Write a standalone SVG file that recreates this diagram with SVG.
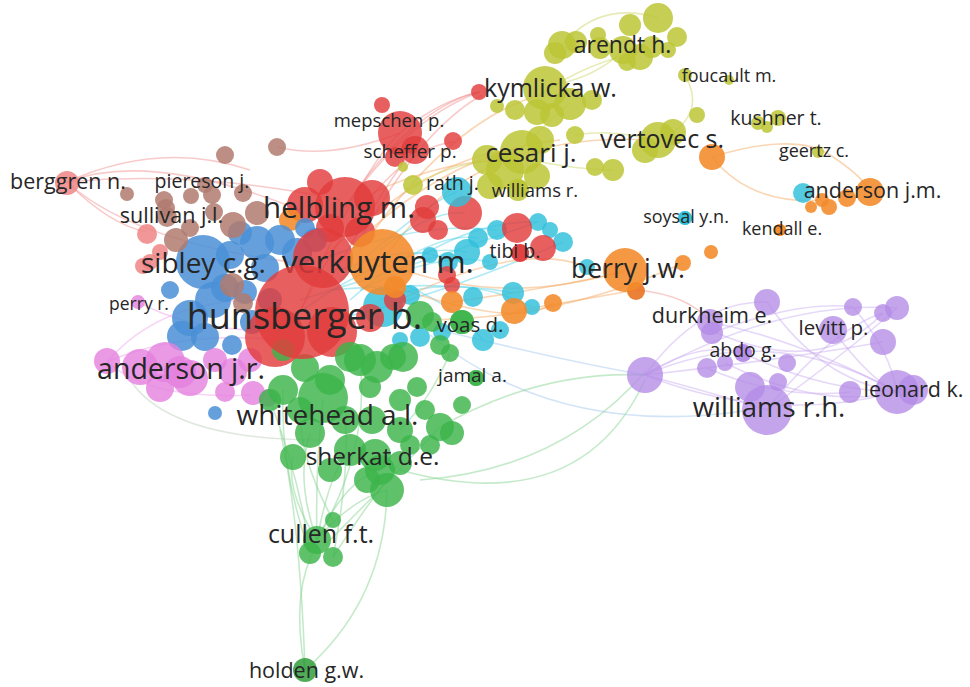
<svg xmlns="http://www.w3.org/2000/svg" width="970" height="687" viewBox="0 0 970 687">
<style>
.r{fill:#e23c3c;fill-opacity:.82}
.o{fill:#f28a2a;fill-opacity:.88}
.c{fill:#2fbfdc;fill-opacity:.82}
.y{fill:#bcc636;fill-opacity:.85}
.b{fill:#4a8fd6;fill-opacity:.85}
.br{fill:#b07a6e;fill-opacity:.85}
.s{fill:#ef8585;fill-opacity:.85}
.p{fill:#e57fdd;fill-opacity:.8}
.g{fill:#3cb44b;fill-opacity:.82}
.pu{fill:#b48be6;fill-opacity:.78}
.t{font-family:"Open Sans","Liberation Sans",sans-serif;fill:#262626;text-anchor:middle}
#connectors path{fill:none;stroke-width:1.6;stroke-opacity:.45}
.er{stroke:#f08c8c}.eo{stroke:#f5a55a}.ec{stroke:#4fd0e8}.ey{stroke:#c9d35a}.eg{stroke:#7fd08a}.ep{stroke:#c8a8f0}.eb{stroke:#9ec3ee}.epk{stroke:#eea0e8}.egr{stroke:#b8cdb8}
</style>
<rect width="970" height="687" fill="#ffffff"/>
<g id="connectors">
<path class="er" d="M67,182 Q150,150 300,210"/>
<path class="er" d="M67,182 Q130,240 290,262"/>
<path class="er" d="M67,182 Q200,170 340,200"/>
<path class="er" d="M67,182 Q110,225 147,232"/>
<path class="er" d="M67,182 Q160,140 250,170"/>
<path class="er" d="M277,147 Q330,160 400,133"/>
<path class="er" d="M345,207 Q410,110 478,92"/>
<path class="er" d="M400,133 Q440,100 480,92"/>
<path class="er" d="M330,230 Q400,120 480,92"/>
<path class="er" d="M360,240 Q420,130 482,95"/>
<path class="eo" d="M345,207 Q430,160 510,160"/>
<path class="eo" d="M382,262 Q470,130 650,140"/>
<path class="eo" d="M320,260 Q440,150 520,150"/>
<path class="eo" d="M360,250 Q450,120 540,95"/>
<path class="eo" d="M370,230 Q460,150 560,140"/>
<path class="er" d="M300,312 Q380,150 453,142"/>
<path class="er" d="M300,312 Q360,170 400,133"/>
<path class="er" d="M330,280 Q400,160 415,150"/>
<path class="ec" d="M300,312 Q400,240 467,252"/>
<path class="ec" d="M320,260 Q420,220 497,230"/>
<path class="ec" d="M340,280 Q430,200 457,192"/>
<path class="ec" d="M300,300 Q430,260 538,222"/>
<path class="ec" d="M330,290 Q450,280 513,293"/>
<path class="ec" d="M330,320 Q430,300 563,242"/>
<path class="ec" d="M350,300 Q430,230 478,238"/>
<path class="ec" d="M360,290 Q440,250 490,262"/>
<path class="ec" d="M380,300 Q460,270 532,307"/>
<path class="ec" d="M380,250 Q430,210 465,213"/>
<path class="ec" d="M390,280 Q450,300 483,340"/>
<path class="ec" d="M400,270 Q470,220 538,222"/>
<path class="ec" d="M340,270 Q420,240 448,262"/>
<path class="eo" d="M382,262 Q500,310 625,270"/>
<path class="eo" d="M452,302 Q540,290 625,272"/>
<path class="eo" d="M514,311 Q580,300 636,290"/>
<path class="eo" d="M420,320 Q560,320 683,263"/>
<path class="eo" d="M400,300 Q520,240 587,267"/>
<path class="eo" d="M395,287 Q520,330 553,303"/>
<path class="er" d="M636,290 Q690,295 710,322"/>
<path class="eo" d="M712,157 C760,142 805,138 830,155 C850,168 865,180 870,192"/>
<path class="eo" d="M712,157 Q750,205 822,200"/>
<path class="ey" d="M562,45 Q600,0 658,18"/>
<path class="ey" d="M555,85 Q600,75 623,50"/>
<path class="ey" d="M540,95 Q590,60 650,50"/>
<path class="ey" d="M685,75 Q705,110 673,132"/>
<path class="ey" d="M575,135 Q620,128 658,143"/>
<path class="ey" d="M520,150 Q550,120 570,103"/>
<path class="ey" d="M530,160 Q580,170 613,170"/>
<path class="ey" d="M413,185 Q460,160 505,160"/>
<path class="ep" d="M645,375 Q770,320 897,392"/>
<path class="ep" d="M645,375 Q770,425 897,392"/>
<path class="ep" d="M645,375 Q780,360 883,342"/>
<path class="ep" d="M710,322 Q800,340 897,392"/>
<path class="ep" d="M710,330 Q820,380 883,313"/>
<path class="ep" d="M767,410 Q830,330 883,313"/>
<path class="ep" d="M767,410 Q850,350 897,308"/>
<path class="ep" d="M743,353 Q820,390 897,392"/>
<path class="ep" d="M725,363 Q820,410 897,392"/>
<path class="ep" d="M767,302 Q820,380 897,392"/>
<path class="ep" d="M833,330 Q870,380 897,392"/>
<path class="ep" d="M853,307 Q890,350 897,392"/>
<path class="ep" d="M645,375 Q700,340 743,353"/>
<path class="ep" d="M707,368 Q780,400 850,392"/>
<path class="ep" d="M645,375 Q720,395 767,410"/>
<path class="ep" d="M645,375 Q700,300 767,302"/>
<path class="ep" d="M645,375 Q780,300 897,308"/>
<path class="ep" d="M712,333 Q800,300 853,307"/>
<path class="eb" d="M430,335 Q560,440 750,410"/>
<path class="eb" d="M440,330 Q560,360 645,375"/>
<path class="eg" d="M400,470 Q580,520 645,380"/>
<path class="eg" d="M440,427 Q540,370 645,375"/>
<path class="eg" d="M420,480 Q560,470 645,372"/>
<path class="egr" d="M130,380 Q170,440 320,440"/>
<path class="epk" d="M107,362 Q160,300 260,300"/>
<path class="epk" d="M107,362 Q180,330 280,340"/>
<path class="epk" d="M138,302 Q190,330 260,330"/>
<path class="epk" d="M107,362 Q150,400 250,395"/>
<path class="eg" d="M317,540 Q295,480 310,433"/>
<path class="eg" d="M317,540 Q330,470 350,450"/>
<path class="eg" d="M317,540 Q345,480 380,470"/>
<path class="eg" d="M317,540 Q350,500 387,490"/>
<path class="eg" d="M317,540 Q285,490 293,457"/>
<path class="eg" d="M317,540 Q315,470 323,400"/>
<path class="eg" d="M310,553 Q280,470 283,390"/>
<path class="eg" d="M333,557 Q370,500 400,463"/>
<path class="eg" d="M333,520 Q300,460 300,410"/>
<path class="eg" d="M317,540 Q370,450 360,360"/>
<path class="eg" d="M310,553 Q300,480 270,400"/>
<path class="eg" d="M333,557 Q350,470 345,420"/>
<path class="eg" d="M325,545 Q390,480 440,427"/>
<path class="eg" d="M305,670 Q290,590 317,545"/>
<path class="eg" d="M305,670 Q385,600 387,490"/>
<path class="eg" d="M305,670 Q300,520 280,430"/>
<path class="eg" d="M450,353 Q430,400 400,430"/>
</g>
<g id="nodes">
<g id="n1"><circle class="r" cx="382" cy="105" r="8"/></g>
<g id="n2"><circle class="r" cx="415" cy="150" r="14"/></g>
<g id="n3"><circle class="r" cx="395" cy="157" r="10"/></g>
<g id="n4"><circle class="r" cx="453" cy="141" r="9"/></g>
<g id="n5"><circle class="r" cx="479" cy="92" r="8"/></g>
<g id="n6"><circle class="r" cx="320" cy="182" r="13"/></g>
<g id="n7"><circle class="r" cx="305" cy="205" r="18"/></g>
<g id="n8"><circle class="r" cx="372" cy="198" r="18"/></g>
<g id="n9"><circle class="r" cx="360" cy="232" r="15"/></g>
<g id="n10"><circle class="r" cx="330" cy="228" r="14"/></g>
<g id="n11"><circle class="r" cx="427" cy="207" r="12"/></g>
<g id="n12"><circle class="r" cx="465" cy="213" r="17"/></g>
<g id="n13"><circle class="r" cx="423" cy="220" r="13"/></g>
<g id="n14"><circle class="r" cx="438" cy="230" r="10"/></g>
<g id="n15"><circle class="o" cx="290" cy="220" r="11"/></g>
<g id="n16"><circle class="b" cx="203" cy="262" r="27"/></g>
<g id="n17"><circle class="b" cx="240" cy="233" r="12"/></g>
<g id="n18"><circle class="b" cx="257" cy="243" r="17"/></g>
<g id="n19"><circle class="b" cx="280" cy="240" r="15"/></g>
<g id="n20"><circle class="b" cx="297" cy="253" r="15"/></g>
<g id="n21"><circle class="b" cx="265" cy="268" r="14"/></g>
<g id="n22"><circle class="b" cx="225" cy="288" r="14"/></g>
<g id="n23"><circle class="b" cx="213" cy="300" r="18"/></g>
<g id="n24"><circle class="b" cx="190" cy="318" r="18"/></g>
<g id="n25"><circle class="b" cx="182" cy="336" r="15"/></g>
<g id="n26"><circle class="b" cx="205" cy="337" r="14"/></g>
<g id="n27"><circle class="b" cx="245" cy="292" r="12"/></g>
<g id="n28"><circle class="b" cx="305" cy="228" r="10"/></g>
<g id="n29"><circle class="b" cx="232" cy="345" r="10"/></g>
<g id="n30"><circle class="b" cx="252" cy="322" r="12"/></g>
<g id="n31"><circle class="b" cx="270" cy="300" r="12"/></g>
<g id="n32"><circle class="b" cx="170" cy="290" r="9"/></g>
<g id="n33"><circle class="b" cx="215" cy="413" r="7"/></g>
<g id="n186"><circle class="b" cx="230" cy="255" r="14"/></g>
<g id="n187"><circle class="b" cx="315" cy="240" r="12"/></g>
<g id="n34"><circle class="br" cx="225" cy="155" r="9"/></g>
<g id="n35"><circle class="br" cx="277" cy="147" r="9"/></g>
<g id="n36"><circle class="br" cx="127" cy="194" r="7"/></g>
<g id="n37"><circle class="br" cx="164" cy="200" r="9"/></g>
<g id="n38"><circle class="br" cx="191" cy="196" r="8"/></g>
<g id="n39"><circle class="br" cx="212" cy="195" r="9"/></g>
<g id="n40"><circle class="br" cx="243" cy="193" r="9"/></g>
<g id="n41"><circle class="br" cx="233" cy="225" r="13"/></g>
<g id="n42"><circle class="br" cx="257" cy="213" r="12"/></g>
<g id="n43"><circle class="br" cx="167" cy="217" r="10"/></g>
<g id="n44"><circle class="br" cx="176" cy="240" r="12"/></g>
<g id="n45"><circle class="br" cx="214" cy="212" r="9"/></g>
<g id="n46"><circle class="br" cx="232" cy="285" r="12"/></g>
<g id="n47"><circle class="br" cx="243" cy="303" r="10"/></g>
<g id="n48"><circle class="br" cx="190" cy="228" r="9"/></g>
<g id="n49"><circle class="s" cx="147" cy="234" r="10"/></g>
<g id="n50"><circle class="s" cx="143" cy="266" r="8"/></g>
<g id="n51"><circle class="s" cx="160" cy="252" r="8"/></g>
<g id="n52"><circle class="p" cx="107" cy="361" r="13"/></g>
<g id="n53"><circle class="p" cx="140" cy="367" r="18"/></g>
<g id="n54"><circle class="p" cx="165" cy="362" r="20"/></g>
<g id="n55"><circle class="p" cx="190" cy="378" r="18"/></g>
<g id="n56"><circle class="p" cx="233" cy="372" r="14"/></g>
<g id="n57"><circle class="p" cx="215" cy="360" r="12"/></g>
<g id="n58"><circle class="p" cx="250" cy="360" r="12"/></g>
<g id="n59"><circle class="p" cx="253" cy="393" r="12"/></g>
<g id="n60"><circle class="p" cx="160" cy="388" r="14"/></g>
<g id="n61"><circle class="p" cx="268" cy="398" r="9"/></g>
<g id="n62"><circle class="p" cx="225" cy="392" r="10"/></g>
<g id="n63"><circle class="c" cx="467" cy="252" r="13"/></g>
<g id="n64"><circle class="c" cx="478" cy="238" r="10"/></g>
<g id="n65"><circle class="c" cx="497" cy="230" r="10"/></g>
<g id="n66"><circle class="c" cx="538" cy="222" r="9"/></g>
<g id="n67"><circle class="c" cx="563" cy="242" r="10"/></g>
<g id="n68"><circle class="c" cx="490" cy="262" r="8"/></g>
<g id="n69"><circle class="c" cx="513" cy="293" r="11"/></g>
<g id="n70"><circle class="c" cx="532" cy="307" r="8"/></g>
<g id="n71"><circle class="c" cx="473" cy="297" r="10"/></g>
<g id="n72"><circle class="c" cx="483" cy="340" r="11"/></g>
<g id="n73"><circle class="c" cx="500" cy="330" r="9"/></g>
<g id="n74"><circle class="c" cx="383" cy="307" r="20"/></g>
<g id="n75"><circle class="c" cx="410" cy="295" r="10"/></g>
<g id="n76"><circle class="c" cx="420" cy="337" r="10"/></g>
<g id="n77"><circle class="c" cx="442" cy="332" r="9"/></g>
<g id="n78"><circle class="c" cx="400" cy="340" r="8"/></g>
<g id="n79"><circle class="c" cx="448" cy="262" r="10"/></g>
<g id="n188"><circle class="c" cx="430" cy="255" r="8"/></g>
<g id="n189"><circle class="c" cx="550" cy="230" r="8"/></g>
<g id="n80"><circle class="c" cx="587" cy="267" r="8"/></g>
<g id="n81"><circle class="c" cx="803" cy="193" r="10"/></g>
<g id="n82"><circle class="r" cx="517" cy="228" r="15"/></g>
<g id="n83"><circle class="r" cx="543" cy="248" r="13"/></g>
<g id="n84"><circle class="r" cx="520" cy="253" r="9"/></g>
<g id="n85"><circle class="r" cx="447" cy="275" r="9"/></g>
<g id="n86"><circle class="r" cx="452" cy="285" r="8"/></g>
<g id="n87"><circle class="r" cx="323" cy="258" r="30" fill-opacity=".7"/></g>
<g id="n88"><circle class="r" cx="275" cy="337" r="30"/></g>
<g id="n89"><circle class="r" cx="332" cy="332" r="25"/></g>
<g id="n90"><circle class="r" cx="370" cy="318" r="14"/></g>
<g id="n91"><circle class="r" cx="395" cy="300" r="11"/></g>
<g id="n92"><circle class="o" cx="395" cy="287" r="11"/></g>
<g id="n93"><circle class="o" cx="452" cy="302" r="11"/></g>
<g id="n94"><circle class="o" cx="514" cy="311" r="13"/></g>
<g id="n95"><circle class="o" cx="553" cy="303" r="9"/></g>
<g id="n96"><circle class="o" cx="636" cy="291" r="9" style="fill:#e8701a"/></g>
<g id="n97"><circle class="o" cx="683" cy="263" r="8"/></g>
<g id="n98"><circle class="o" cx="711" cy="252" r="7"/></g>
<g id="n99"><circle class="o" cx="712" cy="157" r="13"/></g>
<g id="n100"><circle class="o" cx="847" cy="198" r="9"/></g>
<g id="n101"><circle class="o" cx="829" cy="207" r="8"/></g>
<g id="n102"><circle class="o" cx="811" cy="207" r="6"/></g>
<g id="n103"><circle class="o" cx="822" cy="200" r="7"/></g>
<g id="n104"><circle class="o" cx="780" cy="230" r="6"/></g>
<g id="n105"><circle class="c" cx="685" cy="218" r="7"/></g>
<g id="n106"><circle class="y" cx="630" cy="25" r="11"/></g>
<g id="n107"><circle class="y" cx="677" cy="37" r="10"/></g>
<g id="n108"><circle class="y" cx="598" cy="35" r="8"/></g>
<g id="n109"><circle class="y" cx="562" cy="45" r="14"/></g>
<g id="n110"><circle class="y" cx="555" cy="53" r="11"/></g>
<g id="n111"><circle class="y" cx="576" cy="42" r="11"/></g>
<g id="n112"><circle class="y" cx="623" cy="50" r="14"/></g>
<g id="n113"><circle class="y" cx="640" cy="57" r="13"/></g>
<g id="n114"><circle class="y" cx="652" cy="47" r="11"/></g>
<g id="n115"><circle class="y" cx="627" cy="62" r="9"/></g>
<g id="n190"><circle class="y" cx="600" cy="48" r="11"/></g>
<g id="n191"><circle class="y" cx="668" cy="50" r="8"/></g>
<g id="n116"><circle class="y" cx="570" cy="104" r="16"/></g>
<g id="n117"><circle class="y" cx="592" cy="100" r="10"/></g>
<g id="n118"><circle class="y" cx="537" cy="112" r="13"/></g>
<g id="n119"><circle class="y" cx="515" cy="110" r="10"/></g>
<g id="n120"><circle class="y" cx="497" cy="106" r="7"/></g>
<g id="n192"><circle class="y" cx="552" cy="115" r="12"/></g>
<g id="n121"><circle class="y" cx="505" cy="170" r="19"/></g>
<g id="n122"><circle class="y" cx="490" cy="186" r="13"/></g>
<g id="n123"><circle class="y" cx="537" cy="176" r="13"/></g>
<g id="n124"><circle class="y" cx="518" cy="190" r="11"/></g>
<g id="n125"><circle class="y" cx="487" cy="160" r="15"/></g>
<g id="n193"><circle class="y" cx="540" cy="140" r="14"/></g>
<g id="n126"><circle class="y" cx="575" cy="135" r="9"/></g>
<g id="n127"><circle class="y" cx="595" cy="167" r="9"/></g>
<g id="n128"><circle class="y" cx="613" cy="170" r="11"/></g>
<g id="n129"><circle class="y" cx="673" cy="132" r="13"/></g>
<g id="n194"><circle class="y" cx="645" cy="150" r="13"/></g>
<g id="n130"><circle class="y" cx="697" cy="115" r="8"/></g>
<g id="n131"><circle class="y" cx="413" cy="185" r="10"/></g>
<g id="n132"><circle class="y" cx="403" cy="167" r="5"/></g>
<g id="n133"><circle class="y" cx="729" cy="80" r="5"/></g>
<g id="n134"><circle class="y" cx="778" cy="118" r="8"/></g>
<g id="n135"><circle class="y" cx="767" cy="127" r="6"/></g>
<g id="n136"><circle class="g" cx="420" cy="315" r="14"/></g>
<g id="n137"><circle class="g" cx="403" cy="357" r="15"/></g>
<g id="n138"><circle class="g" cx="350" cy="357" r="15"/></g>
<g id="n139"><circle class="g" cx="283" cy="390" r="15"/></g>
<g id="n140"><circle class="g" cx="360" cy="360" r="16"/></g>
<g id="n141"><circle class="g" cx="377" cy="367" r="16"/></g>
<g id="n142"><circle class="g" cx="393" cy="357" r="13"/></g>
<g id="n143"><circle class="g" cx="417" cy="387" r="10"/></g>
<g id="n144"><circle class="g" cx="370" cy="387" r="11"/></g>
<g id="n145"><circle class="g" cx="450" cy="353" r="9"/></g>
<g id="n146"><circle class="g" cx="440" cy="427" r="14"/></g>
<g id="n147"><circle class="g" cx="452" cy="433" r="12"/></g>
<g id="n148"><circle class="g" cx="310" cy="433" r="15"/></g>
<g id="n149"><circle class="g" cx="293" cy="457" r="13"/></g>
<g id="n150"><circle class="g" cx="350" cy="450" r="16"/></g>
<g id="n151"><circle class="g" cx="380" cy="470" r="15"/></g>
<g id="n152"><circle class="g" cx="387" cy="490" r="17"/></g>
<g id="n153"><circle class="g" cx="367" cy="480" r="13"/></g>
<g id="n154"><circle class="g" cx="400" cy="463" r="12"/></g>
<g id="n155"><circle class="g" cx="333" cy="520" r="8"/></g>
<g id="n156"><circle class="g" cx="310" cy="553" r="11"/></g>
<g id="n157"><circle class="g" cx="333" cy="557" r="10"/></g>
<g id="n158"><circle class="g" cx="462" cy="322" r="12"/></g>
<g id="n159"><circle class="g" cx="432" cy="322" r="10"/></g>
<g id="n160"><circle class="g" cx="330" cy="380" r="15"/></g>
<g id="n161"><circle class="g" cx="300" cy="410" r="13"/></g>
<g id="n162"><circle class="g" cx="345" cy="420" r="14"/></g>
<g id="n163"><circle class="g" cx="400" cy="400" r="11"/></g>
<g id="n164"><circle class="g" cx="425" cy="410" r="10"/></g>
<g id="n165"><circle class="g" cx="430" cy="445" r="10"/></g>
<g id="n166"><circle class="g" cx="270" cy="400" r="11"/></g>
<g id="n167"><circle class="g" cx="476" cy="378" r="8"/></g>
<g id="n168"><circle class="g" cx="400" cy="430" r="13"/></g>
<g id="n169"><circle class="g" cx="330" cy="470" r="12"/></g>
<g id="n170"><circle class="g" cx="283" cy="350" r="11"/></g>
<g id="n195"><circle class="g" cx="305" cy="368" r="14"/></g>
<g id="n196"><circle class="g" cx="440" cy="345" r="10"/></g>
<g id="n197"><circle class="g" cx="462" cy="405" r="9"/></g>
<g id="n198"><circle class="g" cx="372" cy="420" r="14"/></g>
<g id="n199"><circle class="g" cx="410" cy="445" r="10"/></g>
<g id="n171"><circle class="pu" cx="645" cy="375" r="18"/></g>
<g id="n172"><circle class="pu" cx="767" cy="302" r="13"/></g>
<g id="n173"><circle class="pu" cx="712" cy="333" r="11"/></g>
<g id="n174"><circle class="pu" cx="707" cy="368" r="10"/></g>
<g id="n175"><circle class="pu" cx="725" cy="363" r="8"/></g>
<g id="n176"><circle class="pu" cx="787" cy="363" r="9"/></g>
<g id="n177"><circle class="pu" cx="750" cy="387" r="15"/></g>
<g id="n178"><circle class="pu" cx="778" cy="382" r="9"/></g>
<g id="n179"><circle class="pu" cx="853" cy="307" r="9"/></g>
<g id="n180"><circle class="pu" cx="883" cy="313" r="9"/></g>
<g id="n181"><circle class="pu" cx="897" cy="308" r="12"/></g>
<g id="n182"><circle class="pu" cx="883" cy="342" r="13"/></g>
<g id="n183"><circle class="pu" cx="913" cy="390" r="15"/></g>
<g id="n184"><circle class="pu" cx="850" cy="392" r="11"/></g>
<g id="n185"><circle class="pu" cx="743" cy="353" r="9"/></g>
</g>
<g id="labelled">
<g id="verkuyten"><circle class="o" cx="382" cy="262" r="33"/><text class="t" x="378" y="273" font-size="31.5">verkuyten m.</text></g>
<g id="hunsberger"><circle class="r" cx="302" cy="312" r="47"/><text class="t" x="304.5" y="329" font-size="36">hunsberger b.</text></g>
<g id="helbling"><circle class="r" cx="345" cy="207" r="30"/><text class="t" x="339" y="218" font-size="29.5">helbling m.</text></g>
<g id="mepschen"><circle class="r" cx="400" cy="133" r="22"/><text class="t" x="389" y="127" font-size="18.5">mepschen p.</text></g>
<g id="whitehead"><circle class="g" cx="323" cy="398" r="25"/><text class="t" x="327.5" y="425" font-size="28">whitehead a.l.</text></g>
<g id="williamsrh"><circle class="pu" cx="767" cy="410" r="25"/><text class="t" x="769" y="417" font-size="27.5">williams r.h.</text></g>
<g id="leonard"><circle class="pu" cx="897" cy="392" r="22"/><text class="t" x="913.5" y="397" font-size="21.5">leonard k.</text></g>
<g id="berry"><circle class="o" cx="625" cy="270" r="22"/><text class="t" x="628" y="278" font-size="26.5">berry j.w.</text></g>
<g id="cesari"><circle class="y" cx="522" cy="152" r="22"/><text class="t" x="531" y="162" font-size="26">cesari j.</text></g>
<g id="kymlicka"><circle class="y" cx="545" cy="88" r="22"/><text class="t" x="550.5" y="97" font-size="25">kymlicka w.</text></g>
<g id="arendt"><circle class="y" cx="658" cy="18" r="15"/><text class="t" x="622.5" y="53" font-size="23">arendt h.</text></g>
<g id="vertovec"><circle class="y" cx="658" cy="140" r="18"/><text class="t" x="662" y="148" font-size="25">vertovec s.</text></g>
<g id="sibley"><circle class="s" cx="150" cy="262" r="8"/><text class="t" x="203.5" y="273" font-size="28">sibley c.g.</text></g>
<g id="andersonjr"><circle class="p" cx="180" cy="372" r="16"/><text class="t" x="181" y="379" font-size="28.5">anderson j.r.</text></g>
<g id="sherkat"><circle class="g" cx="375" cy="455" r="16"/><text class="t" x="372.5" y="465" font-size="24.5">sherkat d.e.</text></g>
<g id="cullen"><circle class="g" cx="317" cy="540" r="14"/><text class="t" x="321" y="543" font-size="25">cullen f.t.</text></g>
<g id="holden"><circle class="g" cx="305" cy="670" r="12" style="fill:#2a9a35"/><text class="t" x="306.5" y="678" font-size="21.5">holden g.w.</text></g>
<g id="andersonjm"><circle class="o" cx="870" cy="192" r="14"/><text class="t" x="872.5" y="198" font-size="21.5">anderson j.m.</text></g>
<g id="berggren"><circle class="s" cx="67" cy="183" r="12"/><text class="t" x="68" y="189" font-size="21.5">berggren n.</text></g>
<g id="sullivan"><circle class="br" cx="166" cy="208" r="9"/><text class="t" x="171.5" y="223" font-size="21.5">sullivan j.l.</text></g>
<g id="piereson"><circle class="br" cx="205" cy="185" r="8"/><text class="t" x="202" y="188" font-size="19.5">piereson j.</text></g>
<g id="durkheim"><circle class="pu" cx="710" cy="322" r="13"/><text class="t" x="712" y="323" font-size="21.5">durkheim e.</text></g>
<g id="levitt"><circle class="pu" cx="833" cy="330" r="14"/><text class="t" x="833.5" y="335" font-size="20.5">levitt p.</text></g>
<g id="abdo"><circle class="pu" cx="743" cy="353" r="9"/><text class="t" x="743" y="357" font-size="19.5">abdo g.</text></g>
<g id="rath"><circle class="c" cx="457" cy="192" r="15"/><text class="t" x="452.5" y="190" font-size="19.5">rath j.</text></g>
<g id="scheffer"><circle class="r" cx="412" cy="148" r="6"/><text class="t" x="410" y="158" font-size="19">scheffer p.</text></g>
<g id="williamsr"><circle class="y" cx="520" cy="188" r="8"/><text class="t" x="535" y="197" font-size="18.5">williams r.</text></g>
<g id="tibi"><circle class="r" cx="520" cy="253" r="9"/><text class="t" x="515" y="258" font-size="19.5">tibi b.</text></g>
<g id="voas"><circle class="g" cx="462" cy="322" r="12"/><text class="t" x="470" y="332" font-size="20.5">voas d.</text></g>
<g id="jamal"><circle class="g" cx="476" cy="378" r="8"/><text class="t" x="472.5" y="382" font-size="19">jamal a.</text></g>
<g id="perry"><circle class="p" cx="138" cy="302" r="7"/><text class="t" x="139" y="310" font-size="17.5">perry r.</text></g>
<g id="foucault"><circle class="y" cx="685" cy="75" r="7"/><text class="t" x="729" y="82" font-size="18">foucault m.</text></g>
<g id="kushner"><circle class="y" cx="758" cy="123" r="7"/><text class="t" x="776" y="125" font-size="19.5">kushner t.</text></g>
<g id="geertz"><circle class="y" cx="818" cy="152" r="6"/><text class="t" x="814" y="157" font-size="18">geertz c.</text></g>
<g id="soysal"><circle class="c" cx="685" cy="218" r="7"/><text class="t" x="686" y="223" font-size="18">soysal y.n.</text></g>
<g id="kendall"><circle class="o" cx="780" cy="230" r="6"/><text class="t" x="782" y="235" font-size="18">kendall e.</text></g>
</g>
</svg>
